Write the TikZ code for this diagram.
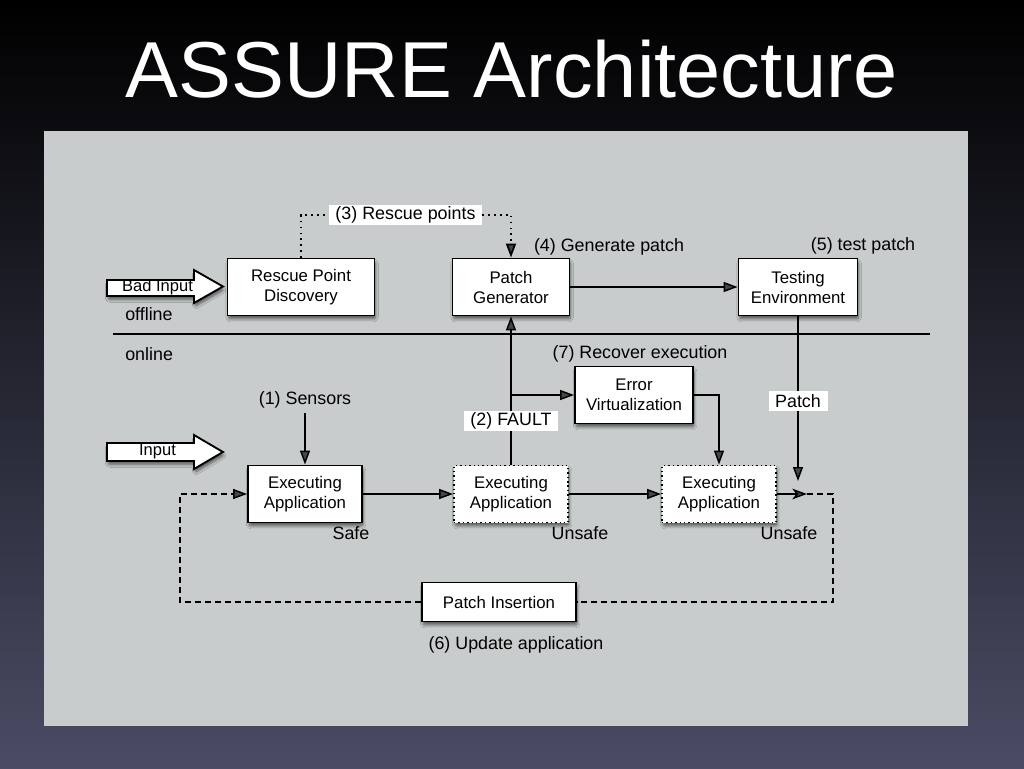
\documentclass[tikz,border=0pt]{standalone}
\usepackage{fontspec}
\setmainfont{Liberation Sans}
\usetikzlibrary{shadows,shadows.blur,arrows.meta,calc}
\definecolor{panel}{RGB}{200,204,204}
\definecolor{bgbot}{RGB}{74,76,100}
\tikzset{
  shd/.style={blur shadow={shadow xshift=0.8pt, shadow yshift=-2.6pt, shadow blur steps=6, shadow blur extra rounding=1.5pt, shadow opacity=55}},
  box/.style={draw, line width=1.4pt, fill=white, align=center, shd,
     font=\fontsize{12.6}{15}\selectfont, inner sep=0pt},
  dotbox/.style={box, dash pattern=on 1.1pt off 2.2pt},
  sz/.style 2 args={minimum width=#1*0.75pt, minimum height=#2*0.75pt},
  lbl/.style={font=\fontsize{13.4}{16}\selectfont, inner sep=0pt},
  lblbox/.style={lbl, fill=white, inner xsep=5pt, inner ysep=0pt, minimum height=15pt},
  conn/.style={line width=1.1pt},
  arr/.style={conn, -{Triangle[length=10.5pt,width=7.5pt]}},
  dsh/.style={conn, dash pattern=on 4.5pt off 3pt},
  dts/.style={conn, line width=1.3pt, dash pattern=on 1.2pt off 3.2pt},
  blk/.style={draw, line width=1.4pt, fill=white, shd, line join=miter},
}
\begin{document}
\begin{tikzpicture}[x=0.75pt,y=-0.75pt]
\useasboundingbox (0,0) rectangle (1024,768);
\shade[top color=black, bottom color=bgbot] (0,0) rectangle (1024,768);
\fill[panel] (44,131) rectangle (968,726);

% title
\node[text=white, font=\fontsize{59.5}{64}\selectfont, anchor=base, inner sep=0pt] (title) at (511.5,97) {ASSURE Architecture};

% offline / online separator
\coordinate (sepl) at (113,334);
\coordinate (sepr) at (930,334);
\draw[line width=1.1pt] (sepl) -- (sepr);
\node[lbl, anchor=west] (offline) at (125,314) {offline};
\node[lbl, anchor=west] (online) at (125,354) {online};

% offline boxes
\node[box, sz={147}{57}] (rpd) at (301,287) {Rescue Point\\Discovery};
\node[box, sz={117}{57}] (pg) at (511,287) {Patch\\Generator};
\node[box, sz={119}{57}] (te) at (798,287) {Testing\\Environment};

% bad input arrow
\draw[blk] (107,280) -- (194,280) -- (194,270) -- (223,286.5) -- (194,303) -- (194,296) -- (107,296) -- cycle;
\node[font=\fontsize{12.4}{14}\selectfont, inner sep=0pt] (badin) at (157.5,287) {Bad Input};

% rescue points (dotted)
\node[lblbox] (rp) at (405.5,215) {(3) Rescue points};
\draw[dts] (rpd.north) |- (rp.west);
\draw[dts, -{Triangle[length=10.5pt,width=7.5pt]}] (rp.east) -| (pg.north);

\node[lbl] (gen) at (609,247) {(4) Generate patch};
\node[lbl] (tst) at (863,246) {(5) test patch};
\draw[arr] (pg.east) -- (te.west);

% online
\node[box, sz={114}{57}] (ea1) at (305,494) {Executing\\Application};
\node[dotbox, sz={114}{57}] (ea2) at (511,494) {Executing\\Application};
\node[dotbox, sz={114}{57}] (ea3) at (719,494) {Executing\\Application};
\node[box, sz={118}{57}] (ev) at (634,395) {Error\\Virtualization};
\node[box, sz={154}{39}] (pi) at (499,602) {Patch Insertion};

% input arrow
\draw[blk] (107,443) -- (194,443) -- (194,435) -- (223,452) -- (194,469) -- (194,461) -- (107,461) -- cycle;
\node[font=\fontsize{12.4}{14}\selectfont, inner sep=0pt] (inp) at (157.5,452) {Input};

\node[lbl] (sens) at (305,400) {(1) Sensors};
\draw[arr] (sens.south) ++(0,4) -- (ea1.north);

\node[lbl] (rec) at (640,354) {(7) Recover execution};

\draw[arr] (ea1.east) -- (ea2.west);
\draw[arr] (ea2.east) -- (ea3.west);

% fault
\draw[arr] (ea2.north) -- node[lblbox, pos=0.293] (fault) {(2) FAULT} (pg.south);
\draw[arr] (ev.west -| ea2.north) -- (ev.west);
\draw[arr] (ev.east) -| (ea3.north);

% patch from testing env
\coordinate (pj) at (798,481);
\draw[arr] (te.south) -- node[lblbox, pos=0.515] (patch) {Patch} (pj);

% junction and update loop
\coordinate (j) at (807,494);
\coordinate (jr) at (833,494);
\coordinate (jl) at (180,602);
\draw[conn, -{Stealth[length=11pt,width=8pt,inset=3pt]}] (ea3.east) -- (j);
\draw[dsh] (j) -- (jr) |- (pi.east);
\draw[dsh, -{Triangle[length=10.5pt,width=7.5pt]}] (pi.west) -- (jl) |- (ea1.west);

\node[lbl] (safe) at (351,533) {Safe};
\node[lbl] (uns1) at (580,533) {Unsafe};
\node[lbl] (uns2) at (789,533) {Unsafe};
\node[lbl] (upd) at (516,645) {(6) Update application};
\end{tikzpicture}
\end{document}
